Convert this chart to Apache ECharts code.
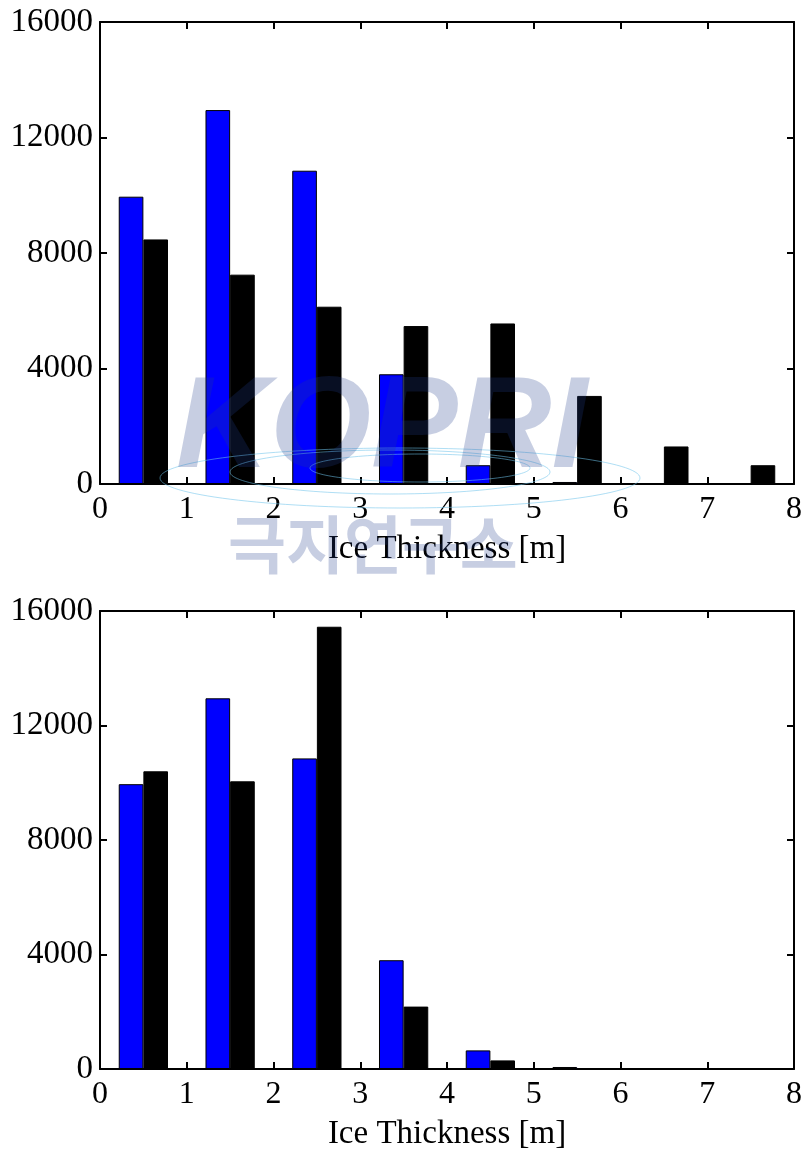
<!DOCTYPE html>
<html>
<head>
<meta charset="utf-8">
<script src="https://cdn.jsdelivr.net/npm/echarts@6/dist/echarts.min.js"></script>
<style>
html,body{margin:0;padding:0;background:#fff;}
#chart{width:805px;height:1152px;}
</style>
</head>
<body>
<div id="chart"></div>
<script>
// ---- data ----
var bins = ['0-1','1-2','2-3','3-4','4-5','5-6','6-7','7-8'];
var xTicks = [0, 1, 2, 3, 4, 5, 6, 7, 8];
var yTicks = [0, 4000, 8000, 12000, 16000];
var topBlue    = [9950, 12950, 10850, 3800, 650, 70, 0, 0];
var topBlack   = [8470, 7250, 6140, 5470, 5560, 3050, 1300, 650];
var bottomBlue = [9950, 12950, 10850, 3800, 650, 70, 0, 0];
var bottomBlack= [10400, 10050, 15450, 2180, 300, 0, 0, 0];
var xName = 'Ice Thickness [m]';

var FONT = 'Liberation Serif';
var chart = echarts.init(document.getElementById('chart'), null, {renderer:'canvas'});

function lineStyle(){ return {color:'#000', width:2}; }
function xAxes(g){
  return [
    {type:'category', gridIndex:g, data:bins, position:'bottom', show:false, axisLine:{onZero:false}},
    {type:'value', gridIndex:g, position:'bottom', min:xTicks[0], max:xTicks[xTicks.length-1], interval:1,
      name:xName, nameLocation:'middle', nameGap:49,
      nameTextStyle:{fontFamily:FONT, fontSize:33, color:'#000'},
      axisLine:{show:true, onZero:false, lineStyle:lineStyle()},
      axisTick:{show:true, inside:true, length:7, lineStyle:{color:'#000', width:2}},
      axisLabel:{show:true, margin:10, fontFamily:FONT, fontSize:32, color:'#000'},
      splitLine:{show:false}},
    {type:'value', gridIndex:g, position:'top', min:xTicks[0], max:xTicks[xTicks.length-1], interval:1,
      axisLine:{show:true, onZero:false, lineStyle:lineStyle()},
      axisTick:{show:true, inside:true, length:7, lineStyle:{color:'#000', width:2}},
      axisLabel:{show:false}, splitLine:{show:false}}
  ];
}
function yAxes(g){
  return [
    {type:'value', gridIndex:g, position:'left', min:yTicks[0], max:yTicks[yTicks.length-1], interval:4000,
      axisLine:{show:true, onZero:false, lineStyle:lineStyle()},
      axisTick:{show:true, inside:true, length:7, lineStyle:{color:'#000', width:2}},
      axisLabel:{show:true, margin:7, fontFamily:FONT, fontSize:33, color:'#000',
        formatter:function(v){ return String(v); }},
      splitLine:{show:false}},
    {type:'value', gridIndex:g, position:'right', min:yTicks[0], max:yTicks[yTicks.length-1], interval:4000,
      axisLine:{show:true, onZero:false, lineStyle:lineStyle()},
      axisTick:{show:true, inside:true, length:7, lineStyle:{color:'#000', width:2}},
      axisLabel:{show:false}, splitLine:{show:false}}
  ];
}
function bar(data, color, xi, yi){
  return {type:'bar', data:data, xAxisIndex:xi, yAxisIndex:yi, barWidth:'28.4%', barGap:'0%',
    itemStyle:{color:color, borderColor:'#000', borderWidth:1}, silent:true, animation:false};
}

var wm = 'rgba(30,60,140,0.25)';
var orbit = 'rgba(110,195,235,0.55)';

var option = {
  backgroundColor:'#fff',
  animation:false,
  grid:[
    {left:100, top:22, width:695, height:462},
    {left:100, top:611, width:695, height:461}
  ],
  xAxis: xAxes(0).concat(xAxes(1)),
  yAxis: yAxes(0).concat(yAxes(1)),
  series:[
    bar(topBlue, '#0000ff', 0, 0),
    bar(topBlack, '#000000', 0, 0),
    bar(bottomBlue, '#0000ff', 3, 2),
    bar(bottomBlack, '#000000', 3, 2)
  ],
  graphic:[
    {type:'ellipse', z:100, shape:{cx:400, cy:478, rx:240, ry:30}, style:{fill:'none', stroke:orbit, lineWidth:1}},
    {type:'ellipse', z:100, shape:{cx:390, cy:472, rx:160, ry:22}, style:{fill:'none', stroke:orbit, lineWidth:1}},
    {type:'ellipse', z:100, shape:{cx:420, cy:468, rx:110, ry:14}, style:{fill:'none', stroke:orbit, lineWidth:1}},
    {type:'text', z:101, left:176, top:366, style:{text:'KOPRI', font:'italic bold 130px "Liberation Sans"', fill:wm}},
    {type:'text', z:101, left:228, top:513, style:{text:'극지연구소', font:'bold 63px "Noto Sans CJK KR"', fill:wm}}
  ]
};
chart.setOption(option);
</script>
</body>
</html>
